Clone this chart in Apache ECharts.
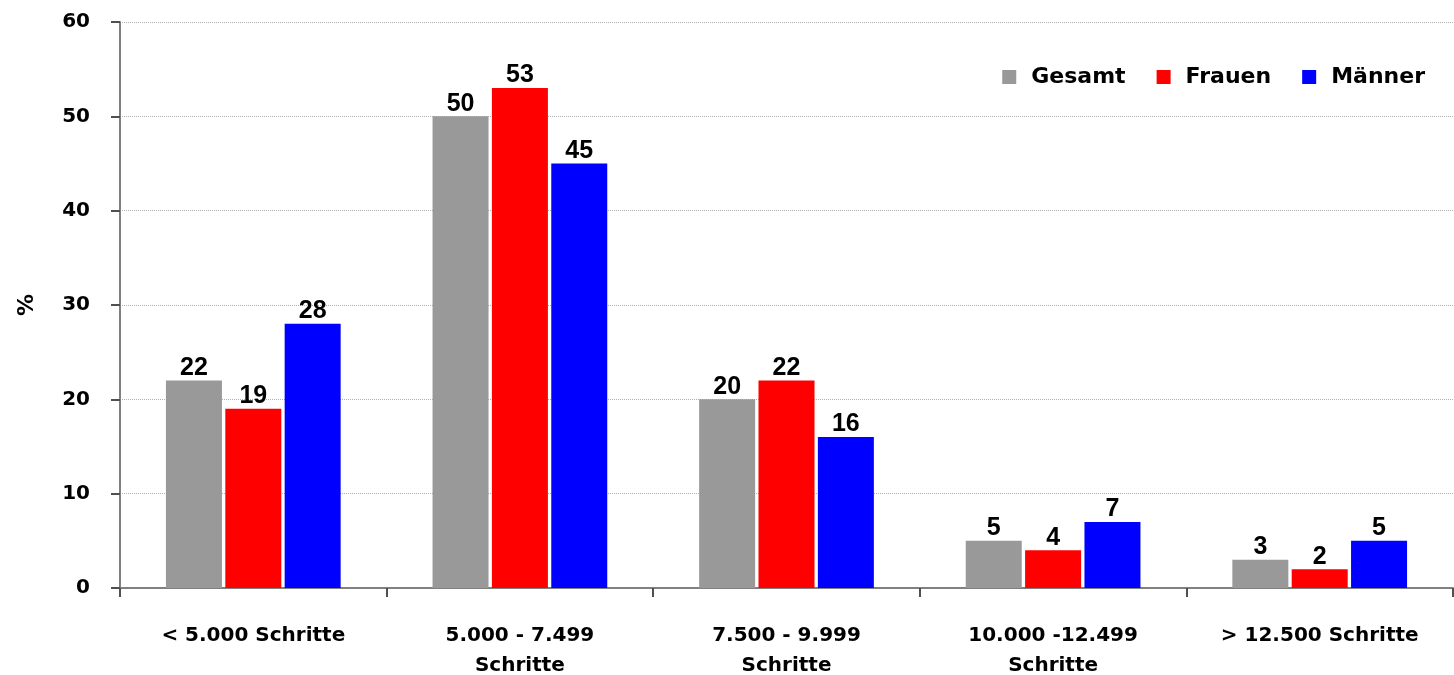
<!DOCTYPE html>
<html>
<head>
<meta charset="utf-8">
<script src="https://cdn.jsdelivr.net/npm/echarts@6/dist/echarts.min.js"></script>
<style>
  html, body { margin: 0; padding: 0; background: #fff; }
  #chart { width: 1454px; height: 675px; }
</style>
</head>
<body>
<div id="chart"></div>
<script>
// Daily step counts, share of respondents in %
const categories = [
  '< 5.000 Schritte',
  '5.000 - 7.499\nSchritte',
  '7.500 - 9.999\nSchritte',
  '10.000 -12.499\nSchritte',
  '> 12.500 Schritte'
];
const gesamt = [22, 50, 20, 5, 3];
const frauen = [19, 53, 22, 4, 2];
const maenner = [28, 45, 16, 7, 5];
const yTicks = { min: 0, max: 60, interval: 10 };

const axisFont = 'DejaVu Sans';
const labelStyle = {
  show: true,
  position: 'top',
  distance: 0,
  color: '#000',
  fontFamily: 'Liberation Sans',
  fontWeight: 'bold',
  fontSize: 25
};

function barSeries(name, data, color) {
  return {
    name: name,
    type: 'bar',
    data: data,
    barWidth: 56,
    barGap: '6%',
    itemStyle: { color: color },
    label: labelStyle
  };
}

const chart = echarts.init(document.getElementById('chart'));
chart.setOption({
  animation: false,
  backgroundColor: '#fff',
  grid: { left: 120, right: 1, top: 22, bottom: 87, outerBoundsMode: 'none', containLabel: false },
  legend: {
    right: 24,
    top: 61,
    itemWidth: 14,
    itemHeight: 14,
    itemGap: 31,
    icon: 'rect',
    textStyle: { fontFamily: axisFont, fontWeight: 'bold', fontSize: 22, color: '#000', padding: [0, 0, 0, 10] },
    data: ['Gesamt', 'Frauen', 'Männer']
  },
  xAxis: {
    type: 'category',
    data: categories,
    axisLine: { lineStyle: { color: '#808080', width: 2 } },
    axisTick: { show: true, length: 9, lineStyle: { color: '#505050', width: 2 } },
    axisLabel: {
      interval: 0,
      margin: 33,
      color: '#000',
      fontFamily: axisFont,
      fontWeight: 'bold',
      fontSize: 20,
      lineHeight: 30
    }
  },
  yAxis: {
    type: 'value',
    min: yTicks.min,
    max: yTicks.max,
    interval: yTicks.interval,
    name: '%',
    nameLocation: 'middle',
    nameGap: 82,
    nameRotate: 90,
    nameTextStyle: { fontFamily: axisFont, fontWeight: 'bold', fontSize: 22, color: '#000' },
    axisLine: { show: true, lineStyle: { color: '#808080', width: 2 } },
    axisTick: { show: true, length: 9, lineStyle: { color: '#505050', width: 2 } },
    axisLabel: {
      margin: 30,
      color: '#000',
      fontFamily: axisFont,
      fontWeight: 'bold',
      fontSize: 20
    },
    splitLine: { show: true, lineStyle: { color: '#b0b0b0', type: 'dotted', width: 1 } }
  },
  series: [
    barSeries('Gesamt', gesamt, '#999999'),
    barSeries('Frauen', frauen, '#ff0000'),
    barSeries('Männer', maenner, '#0000ff')
  ]
});
</script>
</body>
</html>
